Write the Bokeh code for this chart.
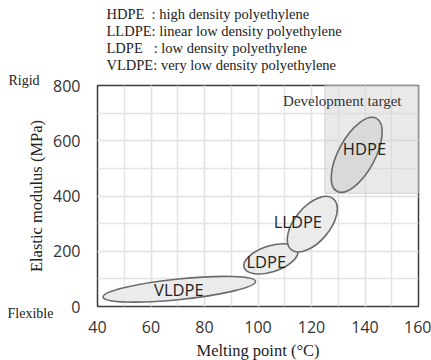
import math
from bokeh.plotting import figure
from bokeh.models import Range1d, SingleIntervalTicker, Label, ColumnDataSource, Title
from bokeh.core.properties import value
from bokeh.embed import file_html
from bokeh.resources import INLINE

# ---- data ----
grades = ["VLDPE", "LDPE", "LLDPE", "HDPE"]
tm_low = [42.1, 94.8, 112.4, 129.5]      # melting point at lower end of each region (°C)
tm_high = [99.1, 114.8, 128.2, 144.3]    # melting point at upper end (°C)
e_low = [34, 141, 206, 417]              # elastic modulus at lower end (MPa)
e_high = [91, 204, 390, 681]             # elastic modulus at upper end (MPa)
thickness = [0.134, 0.46, 0.53, 0.44]    # minor / major axis ratio
label_tm = [70.4, 103.1, 114.9, 139.8]
label_e = [60, 164, 308, 572]

target_tm = [125, 160]
target_e = [410, 800]

legend_abbr = ["HDPE\u00a0\u00a0", "LLDPE", "LDPE\u00a0\u00a0\u00a0", "VLDPE"]
legend_desc = ["high density polyethylene", "linear low density polyethylene",
               "low density polyethylene", "very low density polyethylene"]

x_range = [40, 160]
y_range = [0, 800]

SERIF = "Liberation Serif"

# ---- figure ----
FW, FH = 321, 221
p = figure(frame_width=FW, frame_height=FH, output_backend="svg", toolbar_location=None,
           title=None,
           x_range=Range1d(*x_range), y_range=Range1d(*y_range),
           min_border_left=97, min_border_right=13, min_border_top=85, min_border_bottom=50)
p.background_fill_color = "white"
p.border_fill_color = "white"
p.outline_line_color = "#3c3c3c"
p.outline_line_width = 1.5

p.xaxis.ticker = SingleIntervalTicker(interval=20, num_minor_ticks=2)
p.yaxis.ticker = SingleIntervalTicker(interval=200, num_minor_ticks=2)
for ax in (p.xaxis, p.yaxis):
    ax.axis_line_color = None
    ax.major_tick_line_color = None
    ax.minor_tick_line_color = None
    ax.major_label_text_font = "Open Sans"
    ax.major_label_text_font_size = "16px"
    ax.major_label_text_color = "#333333"
    ax.axis_label_text_font = SERIF
    ax.axis_label_text_font_size = "16.5px"
    ax.axis_label_text_font_style = "normal"
    ax.axis_label_text_color = "#222222"
p.xaxis.major_label_standoff = 8
p.yaxis.major_label_standoff = 11
p.xaxis.axis_label = "Melting point (°C)"
p.yaxis.axis_label = "Elastic modulus (MPa)"
p.xaxis.axis_label_standoff = 5
p.yaxis.axis_label_standoff = 4

for g in (p.xgrid, p.ygrid):
    g.grid_line_color = "#e4e4e4"
    g.grid_line_width = 1.5
    g.minor_grid_line_color = "#e4e4e4"
    g.minor_grid_line_width = 1.5

# development target region
p.quad(left=[target_tm[0]], right=[target_tm[1]], bottom=[target_e[0]], top=[target_e[1]],
       fill_color="#d4d4d4", fill_alpha=0.5, line_color="#d0d0d0", line_width=1)
p.add_layout(Label(x=131.5, y=743, text="Development target", text_font=SERIF,
                   text_font_size="15px", text_color="#333333", text_align="center",
                   text_baseline="middle"))

# ellipses
sx, sy = FW / (x_range[1] - x_range[0]), FH / (y_range[1] - y_range[0])
cx, cy, w, h, ang = [], [], [], [], []
for tl, th, el, eh, r in zip(tm_low, tm_high, e_low, e_high, thickness):
    cx.append((tl + th) / 2)
    cy.append((el + eh) / 2)
    dx, dy = (th - tl) * sx, (eh - el) * sy
    L = math.hypot(dx, dy)
    w.append(L)
    h.append(L * r)
    ang.append(math.atan2(dy, dx))
fills = ["#ebebeb", "#ebebeb", "#ebebeb", "#d9d9d9"]
src = ColumnDataSource(dict(x=cx, y=cy, w=w, h=h, a=ang, f=fills))
p.ellipse(x="x", y="y", width="w", height="h", angle="a", source=src,
          width_units="screen", height_units="screen",
          fill_color="f", line_color="#6a6a6a", line_width=1.6)

p.text(x=label_tm, y=label_e, text=grades, text_font=value("Open Sans"),
       text_font_size="16.5px", text_color="#222222", text_align="center",
       text_baseline="middle")

# "Rigid" sits just above the frame, left of the 800 tick label
rigid = Title(text="Rigid", text_font=SERIF, text_font_size="14px", text_font_style="normal",
              text_color="#222222", align="left", offset=-89, standoff=-4.5,
              vertical_align="bottom")
p.add_layout(rigid, "above")

# abbreviation legend at top (stacked titles; first added sits closest to the frame)
for ab, ds in reversed(list(zip(legend_abbr, legend_desc))):
    t = Title(text=ab + ": " + ds, text_font=SERIF, text_font_size="14.5px",
              text_font_style="normal", text_color="#222222", align="left",
              offset=9, standoff=-1.5)
    p.add_layout(t, "above")

# "Flexible" just below the frame, left of the x axis (near-zero-height panel)
flexible = Title(text="\nFlexible", text_font=SERIF, text_font_size="14px",
                 text_font_style="normal", text_color="#222222", align="left",
                 offset=-90, standoff=-32, vertical_align="top")
p.below = [flexible] + list(p.below)

open("out.html", "w").write(file_html(p, INLINE))
